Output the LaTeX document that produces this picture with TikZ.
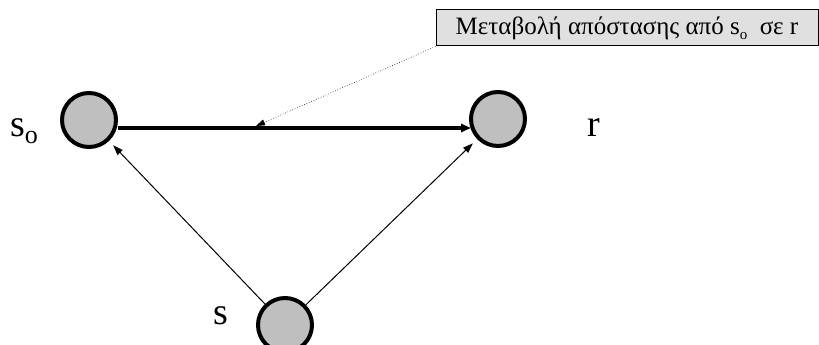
\documentclass[tikz,border=0pt]{standalone}
\usepackage{fontspec}
\setmainfont{Liberation Serif}
\usetikzlibrary{arrows.meta}
\begin{document}
\begin{tikzpicture}[x=1pt,y=-1pt,
  nd/.style={circle,draw=black,fill=black!25,line width=4pt,minimum size=54pt,inner sep=0pt},
  lbl/.style={inner sep=0pt,font=\fontsize{38}{38}\selectfont},
  thin arrow/.style={line width=1pt,-{Triangle[length=10pt,width=7pt]},shorten >=6pt},
  thick arrow/.style={line width=4pt,-{Triangle[length=10pt,width=8pt]}}]
\useasboundingbox (0,0) rectangle (819,345);
\node[nd] (so) at (89,120) {};
\node[nd] (r) at (498,119) {};
\node[nd] (s) at (285,325) {};
\node[lbl,anchor=base west] (lso) at (10,136) {s\raisebox{-0.2em}{\fontsize{26}{26}\selectfont o}};
\node[lbl,anchor=base west] (lr) at (587,136) {r};
\node[lbl,anchor=base west] (ls) at (213,324) {s};
\node[draw=black,line width=1pt,fill=black!12,minimum width=382pt,minimum height=36pt,inner sep=0pt,font=\fontsize{25}{25}\selectfont] (box) at (627,28) {Μεταβολή απόστασης από s\raisebox{-0.2em}{\fontsize{15}{15}\selectfont o}\ \ σε r};
\coordinate (a) at (118,128);
\coordinate (b) at (471,128);
\coordinate (p) at (256,126);
\draw[thick arrow] (a) -- (b);
\draw[dotted,line width=0.6pt,-{Triangle[length=9pt,width=6pt]}] (box.south west) -- (p);
\draw[thin arrow] (s) -- (so);
\draw[thin arrow] (s) -- (r);
\end{tikzpicture}
\end{document}
